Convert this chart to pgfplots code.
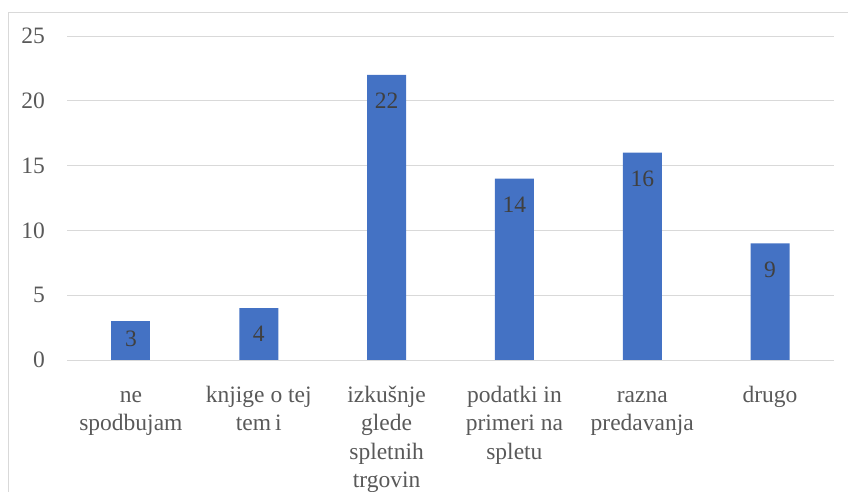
\documentclass[border=0pt]{standalone}
\usepackage{fontspec}
\setmainfont{Liberation Serif}
\usepackage{pgfplots}
\pgfplotsset{compat=1.18}
\definecolor{barblue}{HTML}{4472C4}
\definecolor{gridgray}{HTML}{D9D9D9}
\definecolor{ticktext}{HTML}{595959}
\definecolor{valtext}{HTML}{404040}
\newcommand{\lblfont}{\fontsize{23.5}{28.5}\selectfont}
\begin{document}
\begin{tikzpicture}
\useasboundingbox (0pt,0pt) rectangle (848pt,492pt);
\draw[gridgray, line width=0.9pt] (8pt,0pt) -- (8pt,480pt) -- (848pt,480pt);
\begin{axis}[at={(67pt,132pt)}, anchor=south west, scale only axis,
  width=767pt, height=324pt,
  ybar, bar width=39pt, bar shift=0pt,
  xmin=-0.5, xmax=5.5, ymin=0, ymax=25,
  ytick={0,5,10,15,20,25},
  xtick={0,1,2,3,4,5},
  xticklabels={{\strut ne\\spodbujam}, {\strut knjige o tej\\tem\,i}, {\strut izkušnje\\glede\\spletnih\\trgovin},
    {\strut podatki in\\primeri na\\spletu}, {\strut razna\\predavanja}, {\strut drugo}},
  xticklabel style={anchor=north, inner sep=0pt, yshift=-18pt, align=center, font=\lblfont, text=ticktext},
  yticklabel style={anchor=east, inner sep=0pt, xshift=-22pt, font=\lblfont, text=ticktext},
  /pgf/number format/assume math mode=true,
  ymajorgrids, grid style={gridgray, line width=0.9pt},
  axis line style={draw=none}, tick style={draw=none},
  nodes near coords, every node near coord/.append style={font=\lblfont, text=valtext, anchor=center},
  clip=false]
\addplot[fill=barblue, draw=none, every node near coord/.append style={yshift=-18pt}] coordinates {(0,3)};
\addplot[fill=barblue, draw=none, every node near coord/.append style={yshift=-26pt}] coordinates {(1,4) (2,22) (3,14) (4,16) (5,9)};
\end{axis}
\end{tikzpicture}
\end{document}
